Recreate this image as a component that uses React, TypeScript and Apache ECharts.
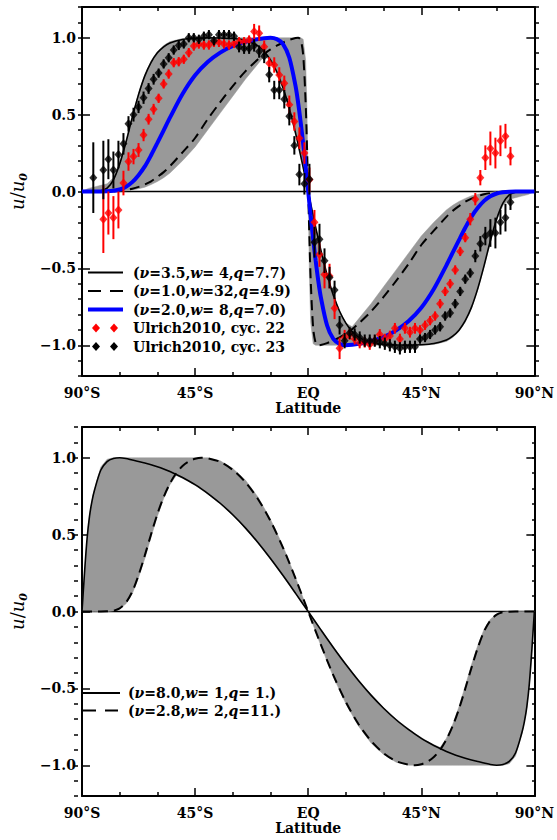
import React, { useEffect, useRef } from "react";
import * as echarts from "echarts";

// ---------------- Top panel: model profiles ----------------
const TOP_LAT = [-90,-87.5,-85,-82.5,-80,-77.5,-75,-72.5,-70,-67.5,-65,-62.5,-60,-57.5,-55,-50,-45,-40,-35,-30,-25,-20,-17.5,-15,-12.5,-10,-7.5,-5,-4,-3,-2,-1,-0.5,0,0.5,1,2,3,4,5,7.5,10,12.5,15,17.5,20,25,30,35,40,45,50,55,57.5,60,62.5,65,67.5,70,72.5,75,77.5,80,82.5,85,87.5,90];
// (v=3.5, w=4, q=7.7)
const TOP_SOLID = [0,0,0,0.004,0.022,0.076,0.179,0.32,0.482,0.63,0.752,0.84,0.902,0.941,0.966,0.989,0.997,0.999,0.998,0.995,0.983,0.947,0.911,0.856,0.779,0.674,0.54,0.378,0.307,0.233,0.157,0.079,0.039,
  0,
  -0.039,-0.079,-0.157,-0.233,-0.307,-0.378,-0.54,-0.674,-0.779,-0.856,-0.911,-0.947,-0.983,-0.995,-0.998,-0.999,-0.997,-0.989,-0.966,-0.941,-0.902,-0.84,-0.752,-0.63,-0.482,-0.32,-0.179,-0.076,-0.022,-0.004,0,0,0];
// (v=1.0, w=32, q=4.9)
const TOP_DASHED = [0,0,0,0,0.001,0.002,0.005,0.01,0.018,0.03,0.046,0.066,0.095,0.126,0.165,0.255,0.348,0.47,0.581,0.686,0.781,0.86,0.895,0.924,0.948,0.969,0.986,0.998,1.0,0.986,0.891,0.574,0.309,
  0,
  -0.309,-0.574,-0.891,-0.986,-1.0,-0.998,-0.986,-0.969,-0.948,-0.924,-0.895,-0.86,-0.781,-0.686,-0.581,-0.47,-0.348,-0.255,-0.165,-0.126,-0.095,-0.066,-0.046,-0.03,-0.018,-0.01,-0.005,-0.002,-0.001,0,0,0,0];
// (v=2.0, w=8, q=7.0)
const TOP_BLUE = [0,0,0,0,0.001,0.005,0.013,0.031,0.061,0.106,0.163,0.236,0.316,0.398,0.48,0.634,0.756,0.842,0.903,0.947,0.973,0.991,0.997,1.0,0.991,0.959,0.87,0.684,0.578,0.452,0.311,0.159,0.08,
  0,
  -0.08,-0.159,-0.311,-0.452,-0.578,-0.684,-0.87,-0.959,-0.991,-1.0,-0.997,-0.991,-0.973,-0.947,-0.903,-0.842,-0.756,-0.634,-0.48,-0.398,-0.316,-0.236,-0.163,-0.106,-0.061,-0.031,-0.013,-0.005,-0.001,0,0,0,0];
// grey range of the model family (upper / lower value)
const TOP_BAND_HI = [0,0.02,0.03,0.04,0.05,0.09,0.19,0.33,0.49,0.64,0.76,0.85,0.91,0.95,0.975,0.995,1,1,1,1,1,1,1,1,1,1,1,1,1,1,0.99,0.85,0.55,
  0,
  -0.039,-0.079,-0.157,-0.233,-0.307,-0.378,-0.54,-0.674,-0.779,-0.856,-0.88,-0.83,-0.73,-0.62,-0.51,-0.4,-0.29,-0.2,-0.12,-0.09,-0.065,-0.045,-0.028,-0.018,-0.01,-0.005,0,0,0,0,0,0,0];
const TOP_BAND_LO = [0,0,0,0,0,0,0,0.005,0.01,0.018,0.028,0.045,0.065,0.09,0.12,0.2,0.29,0.4,0.51,0.62,0.73,0.83,0.88,0.856,0.779,0.674,0.54,0.378,0.307,0.233,0.157,0.079,0.039,
  0,
  -0.55,-0.85,-0.99,-1,-1,-1,-1,-1,-1,-1,-1,-1,-1,-1,-1,-1,-1,-0.995,-0.975,-0.95,-0.91,-0.85,-0.76,-0.64,-0.49,-0.33,-0.19,-0.09,-0.05,-0.04,-0.03,-0.02,0];

// ---------------- Ulrich 2010 data ----------------
const CYC23_LAT = [-85.5,-81.5,-79.5,-77.5,-75.5,-73.5,-71.5,-69.5,-67.5,-65.5,-63.5,-61.5,-59.5,-57.5,-55.5,-53.5,-51.5,-49.5,-47.5,-45.5,-43.5,-41.5,-39.5,-37.5,-35.5,-33.5,-31.5,-29.5,-27.5,-25.5,-23.5,-21.5,-19.5,-17.5,-15.5,-13.5,-11.5,-9.5,-7.5,-5.5,-3.5,-1.5,0.5,2.5,4.5,6.5,8.5,10.5,12.5,14.5,16.5,18.5,20.5,22.5,24.5,26.5,28.5,30.5,32.5,34.5,36.5,38.5,40.5,42.5,44.5,46.5,48.5,50.5,52.5,54.5,56.5,58.5,60.5,62.5,64.5,66.5,68.5,70.5,72.5,74.5,76.5,78.5,80.5];
const CYC23_VAL = [0.09,0.14,0.21,0.14,0.24,0.31,0.44,0.5,0.55,0.61,0.67,0.73,0.77,0.83,0.87,0.92,0.95,0.96,1.0,1.0,0.99,1.01,1.02,0.98,1.02,1.02,1.02,1.01,0.94,0.93,0.93,0.95,0.91,0.88,0.76,0.66,0.66,0.6,0.49,0.3,0.11,0.05,
  0.08,-0.33,-0.31,-0.45,-0.56,-0.64,-0.87,-0.97,-0.92,-0.93,-0.95,-0.97,-0.97,-0.97,-0.98,-0.99,-1.0,-1.01,-1.02,-1.01,-1.01,-1.01,-0.96,-0.95,-0.93,-0.9,-0.88,-0.81,-0.79,-0.73,-0.65,-0.57,-0.53,-0.42,-0.34,-0.29,-0.27,-0.27,-0.2,-0.17,-0.07];
const CYC23_ERR = [0.23,0.19,0.13,0.12,0.09,0.07,0.05,0.045,0.04,0.04,0.035,0.035,0.03,0.03,0.03,0.03,0.03,0.03,0.03,0.03,0.03,0.03,0.03,0.03,0.03,0.03,0.03,0.03,0.035,0.035,0.035,0.04,0.04,0.045,0.05,0.06,0.06,0.06,0.06,0.06,0.07,0.07,
  0.1,0.1,0.1,0.08,0.07,0.06,0.06,0.05,0.04,0.04,0.04,0.04,0.04,0.04,0.04,0.04,0.04,0.04,0.04,0.04,0.04,0.04,0.03,0.03,0.03,0.03,0.03,0.03,0.03,0.03,0.03,0.03,0.03,0.04,0.05,0.06,0.09,0.1,0.08,0.09,0.05];

const CYC22_LAT = [-81.5,-79.5,-77.5,-75.5,-73.5,-71.5,-69.5,-67.5,-65.5,-63.5,-61.5,-59.5,-57.5,-55.5,-53.5,-51.5,-49.5,-47.5,-45.5,-43.5,-41.5,-39.5,-37.5,-35.5,-33.5,-31.5,-29.5,-27.5,-25.5,-23.5,-21.5,-19.5,-17.5,-15.5,-13.5,-11.5,-9.5,-7.5,-5.5,-3.5,-1.5,0.5,2.5,4.5,6.5,8.5,10.5,12.5,14.5,16.5,18.5,20.5,22.5,24.5,26.5,28.5,30.5,32.5,34.5,36.5,38.5,40.5,42.5,44.5,46.5,48.5,50.5,52.5,54.5,56.5,58.5,60.5,62.5,64.5,66.5,68.5,70.5,72.5,74.5,76.5,78.5,80.5];
const CYC22_VAL = [-0.18,-0.14,-0.17,-0.12,0.055,0.195,0.227,0.27,0.367,0.47,0.535,0.606,0.7,0.764,0.838,0.844,0.86,0.903,0.946,0.959,0.953,0.953,0.97,0.97,0.96,0.953,0.963,0.974,0.974,0.985,1.04,1.03,0.942,0.834,0.823,0.758,0.704,0.564,0.455,0.347,0.25,
  0.076,-0.2,-0.41,-0.54,-0.55,-0.76,-1.02,-0.95,-0.93,-0.96,-0.985,-0.98,-0.995,-0.97,-0.93,-0.96,-0.94,-0.89,-0.96,-0.89,-0.915,-0.89,-0.9,-0.87,-0.84,-0.81,-0.73,-0.65,-0.6,-0.51,-0.39,-0.3,-0.18,-0.05,0.09,0.22,0.28,0.25,0.33,0.36,0.23];
const CYC22_ERR = [0.22,0.14,0.14,0.12,0.08,0.06,0.05,0.045,0.04,0.035,0.035,0.03,0.03,0.03,0.03,0.03,0.03,0.03,0.03,0.03,0.03,0.03,0.03,0.03,0.03,0.03,0.03,0.03,0.03,0.03,0.05,0.05,0.04,0.04,0.05,0.05,0.05,0.06,0.06,0.07,0.07,
  0.08,0.08,0.08,0.09,0.08,0.07,0.07,0.05,0.035,0.035,0.035,0.035,0.035,0.035,0.035,0.035,0.035,0.035,0.035,0.035,0.035,0.035,0.03,0.03,0.03,0.03,0.03,0.03,0.03,0.03,0.03,0.03,0.04,0.04,0.05,0.08,0.11,0.1,0.1,0.08,0.06];

// ---------------- Bottom panel: model profiles ----------------
const BOT_LAT = [-90,-89,-88,-87,-86,-85,-82.5,-80,-77.5,-75,-72.5,-70,-67.5,-65,-62.5,-60,-57.5,-55,-52.5,-50,-47.5,-45,-42.5,-40,-35,-30,-25,-20,-15,-10,-5,0,5,10,15,20,25,30,35,40,42.5,45,47.5,50,52.5,55,57.5,60,62.5,65,67.5,70,72.5,75,77.5,80,82.5,85,86,87,88,89,90];
// (v=8.0, w=1, q=1.)
const BOT_SOLID = [0,0.25,0.47,0.62,0.72,0.79,0.92,0.975,0.995,1,0.995,0.985,0.976,0.966,0.955,0.942,0.927,0.91,0.891,0.871,0.849,0.825,0.798,0.769,0.704,0.629,0.544,0.449,0.345,0.234,0.118,
  0,
  -0.118,-0.234,-0.345,-0.449,-0.544,-0.629,-0.704,-0.769,-0.798,-0.825,-0.849,-0.871,-0.891,-0.91,-0.927,-0.942,-0.955,-0.966,-0.976,-0.985,-0.995,-1,-0.995,-0.975,-0.92,-0.79,-0.72,-0.62,-0.47,-0.25,0];
// (v=2.8, w=2, q=11.)
const BOT_DASHED = [0,0,0,0,0,0,0,0.001,0.005,0.02,0.058,0.129,0.236,0.365,0.503,0.634,0.745,0.833,0.9,0.946,0.976,0.993,1,0.997,0.973,0.921,0.841,0.732,0.589,0.414,0.214,
  0,
  -0.214,-0.414,-0.589,-0.732,-0.841,-0.921,-0.973,-0.997,-1,-0.993,-0.976,-0.946,-0.9,-0.833,-0.745,-0.634,-0.503,-0.365,-0.236,-0.129,-0.058,-0.02,-0.005,-0.001,0,0,0,0,0,0,0];
const BOT_BAND_HI = [0,0.25,0.47,0.62,0.72,0.8,0.94,0.99,1,1,1,1,1,1,1,1,1,1,1,1,1,1,1,1,0.98,0.93,0.855,0.745,0.6,0.425,0.22,
  0,
  -0.115,-0.23,-0.34,-0.445,-0.54,-0.625,-0.7,-0.764,-0.793,-0.82,-0.845,-0.866,-0.885,-0.825,-0.735,-0.62,-0.485,-0.345,-0.22,-0.115,-0.05,-0.018,-0.004,0,0,0,0,0,0,0,0];
const BOT_BAND_LO = [0,0,0,0,0,0,0,0,0.004,0.018,0.05,0.115,0.22,0.345,0.485,0.62,0.735,0.825,0.885,0.866,0.845,0.82,0.793,0.764,0.7,0.625,0.54,0.445,0.34,0.23,0.115,
  0,
  -0.22,-0.425,-0.6,-0.745,-0.855,-0.93,-0.98,-1,-1,-1,-1,-1,-1,-1,-1,-1,-1,-1,-1,-1,-1,-1,-1,-0.99,-0.94,-0.8,-0.72,-0.62,-0.47,-0.25,0];

// ---------------- ticks ----------------
const LAT_TICKS: Record<string, string> = { "-90": "90°S", "-45": "45°S", "0": "EQ", "45": "45°N", "90": "90°N" };
const Y_MAJOR = [-1, -0.5, 0, 0.5, 1];

const FONT = "'DejaVu Serif', 'Liberation Serif', serif";
const WEIGHT = "bold";
const GREY = "#999999";

function zip(a: number[], b: number[]) { return a.map((x, i) => [x, b[i]]); }
function zip3(a: number[], b: number[], c: number[]) { return a.map((x, i) => [x, b[i], c[i]]); }

function yFmt(v: number) {
  const r = Math.round(v * 10) / 10;
  if (Math.abs(r * 2 - Math.round(r * 2)) > 1e-6) return "";
  return (r < 0 ? "\u2212" : "") + Math.abs(r).toFixed(1);
}

const nameRich = {
  i: { fontFamily: FONT, fontStyle: "italic", fontSize: 18, lineHeight: 24, color: "#000" },
  s: { fontFamily: FONT, fontStyle: "italic", fontWeight: WEIGHT, fontSize: 11, lineHeight: 12, verticalAlign: "bottom", color: "#000" },
};

function buildAxes(g: number, gOverlay: number) {
  const line = { show: true, onZero: false, lineStyle: { color: "#000", width: 2 } };
  const tick = (len: number) => ({ show: true, inside: true, length: len, lineStyle: { color: "#000", width: 1.5 } });
  const xAxes = [
    {
      gridIndex: g, type: "value", min: -90, max: 90, interval: 45, position: "bottom",
      axisLine: line, axisTick: tick(8),
      minorTick: { show: true, splitNumber: 3, length: 4, lineStyle: { color: "#000", width: 1.5 } },
      splitLine: { show: false },
      axisLabel: { formatter: (v: number) => LAT_TICKS[String(v)] ?? "", margin: 10, color: "#000", fontFamily: FONT, fontWeight: WEIGHT, fontSize: 14 },
      name: "Latitude", nameLocation: "middle", nameGap: 25,
      nameTextStyle: { color: "#000", fontFamily: FONT, fontWeight: WEIGHT, fontSize: 14 },
    },
    {
      gridIndex: g, type: "value", min: -90, max: 90, interval: 45, position: "top",
      axisLine: line, axisTick: tick(8),
      minorTick: { show: true, splitNumber: 3, length: 4, lineStyle: { color: "#000", width: 1.5 } },
      splitLine: { show: false }, axisLabel: { show: false },
    },
    { gridIndex: gOverlay, type: "value", min: -90, max: 90, show: false },
  ];
  const yAxes = [
    {
      gridIndex: g, type: "value", min: -1.2, max: 1.2, position: "left",
      axisLine: line,
      axisTick: { ...tick(8), customValues: Y_MAJOR },
      splitLine: { show: false },
      axisLabel: { customValues: Y_MAJOR, formatter: yFmt, margin: 6, color: "#000", fontFamily: FONT, fontWeight: WEIGHT, fontSize: 14 },
      name: "{i|u}/{i|u}{s|0}", nameLocation: "middle", nameRotate: 90, nameGap: 44,
      nameTextStyle: { color: "#000", fontFamily: FONT, fontSize: 18, rich: nameRich },
    },
    {
      gridIndex: g, type: "value", min: -1.2, max: 1.2, position: "right",
      axisLine: line,
      axisTick: { ...tick(8), customValues: Y_MAJOR },
      splitLine: { show: false }, axisLabel: { show: false },
    },
    {
      gridIndex: gOverlay, type: "value", min: -1.2, max: 1.2, interval: 0.1, position: "left",
      axisLine: { show: false, onZero: false }, axisTick: tick(4), splitLine: { show: false }, axisLabel: { show: false },
    },
    {
      gridIndex: gOverlay, type: "value", min: -1.2, max: 1.2, interval: 0.1, position: "right",
      axisLine: { show: false, onZero: false }, axisTick: tick(4), splitLine: { show: false }, axisLabel: { show: false },
    },
  ];
  return { xAxes, yAxes };
}

function bandSeries(lat: number[], lo: number[], hi: number[], xi: number, yi: number) {
  const rows = zip3(lat, lo, hi);
  return {
    type: "custom", xAxisIndex: xi, yAxisIndex: yi, data: rows, encode: { x: 0, y: [1, 2] },
    silent: true, z: 2, clip: true,
    renderItem: (params: any, api: any) => {
      if (params.dataIndex !== 0) return null;
      const upper = rows.map((r) => api.coord([r[0], r[2]]));
      const lower = rows.map((r) => api.coord([r[0], r[1]])).reverse();
      return { type: "polygon", shape: { points: upper.concat(lower) }, style: { fill: GREY, stroke: GREY, lineWidth: 0.5 } };
    },
  };
}

function curve(lat: number[], val: number[], xi: number, yi: number, color: string, width: number, dashed: boolean, z: number) {
  return {
    type: "line", xAxisIndex: xi, yAxisIndex: yi, data: zip(lat, val), showSymbol: false, symbol: "none",
    smooth: 0.3, silent: true, z,
    lineStyle: { color, width, type: dashed ? [10, 6] : "solid" },
  };
}

function zeroLine(xi: number, yi: number) {
  return {
    type: "line", xAxisIndex: xi, yAxisIndex: yi, data: [[-90, 0], [90, 0]], symbol: "none", silent: true, z: 1,
    lineStyle: { color: "#000", width: 1.5 },
  };
}

function errorBars(lat: number[], val: number[], err: number[], color: string, z: number) {
  return {
    type: "custom", xAxisIndex: 0, yAxisIndex: 0, data: zip3(lat, val, err), encode: { x: 0, y: 1 },
    silent: true, z, clip: true,
    renderItem: (_p: any, api: any) => {
      const x = api.value(0), v = api.value(1), e = api.value(2);
      const a = api.coord([x, v - e]);
      const b = api.coord([x, v + e]);
      return { type: "line", shape: { x1: a[0], y1: a[1], x2: b[0], y2: b[1] }, style: { stroke: color, lineWidth: 2 } };
    },
  };
}

function points(lat: number[], val: number[], color: string, z: number) {
  return {
    type: "scatter", xAxisIndex: 0, yAxisIndex: 0, data: zip(lat, val), symbol: "diamond", symbolSize: [8, 9],
    itemStyle: { color }, silent: true, z,
  };
}

const legendRich = {
  i: { fontFamily: FONT, fontStyle: "italic", fontWeight: WEIGHT, fontSize: 14, fill: "#000" },
};

function legendText(x: number, y: number, text: string) {
  return { type: "text", x, y, style: { text, fontFamily: FONT, fontWeight: WEIGHT, fontSize: 14, fill: "#000", verticalAlign: "middle", rich: legendRich } };
}
function legendLine(x1: number, x2: number, y: number, color: string, width: number, dash?: number[]) {
  return { type: "line", shape: { x1, y1: y, x2, y2: y }, style: { stroke: color, lineWidth: width, lineDash: dash } };
}
function legendDiamond(cx: number, cy: number, color: string) {
  return { type: "polygon", shape: { points: [[cx, cy - 4.5], [cx + 4, cy], [cx, cy + 4.5], [cx - 4, cy]] }, style: { fill: color } };
}

function buildOption() {
  const top = buildAxes(0, 1);
  const bot = buildAxes(2, 3);
  const legendRows = [272.5, 291, 309.5, 328, 346.5];
  return {
    animation: false,
    backgroundColor: "#fff",
    grid: [
      { left: 78, top: 7, width: 461, height: 369 },
      { left: 78, top: 7, width: 461, height: 369 },
      { left: 74, top: 427, width: 462, height: 369 },
      { left: 74, top: 427, width: 462, height: 369 },
    ],
    xAxis: [...top.xAxes, ...bot.xAxes],
    yAxis: [...top.yAxes, ...bot.yAxes],
    series: [
      zeroLine(0, 0),
      bandSeries(TOP_LAT, TOP_BAND_LO, TOP_BAND_HI, 0, 0),
      curve(TOP_LAT, TOP_SOLID, 0, 0, "#000", 1.6, false, 3),
      curve(TOP_LAT, TOP_DASHED, 0, 0, "#000", 2, true, 3),
      curve(TOP_LAT, TOP_BLUE, 0, 0, "#0000ff", 4, false, 4),
      errorBars(CYC22_LAT, CYC22_VAL, CYC22_ERR, "#ff0000", 5),
      points(CYC22_LAT, CYC22_VAL, "#ff0000", 6),
      errorBars(CYC23_LAT, CYC23_VAL, CYC23_ERR, "#000", 7),
      points(CYC23_LAT, CYC23_VAL, "#000", 8),
      zeroLine(3, 4),
      bandSeries(BOT_LAT, BOT_BAND_LO, BOT_BAND_HI, 3, 4),
      curve(BOT_LAT, BOT_SOLID, 3, 4, "#000", 1.6, false, 3),
      curve(BOT_LAT, BOT_DASHED, 3, 4, "#000", 2, true, 3),
    ],
    graphic: [
      legendLine(88, 123, legendRows[0], "#000", 2),
      legendText(133, legendRows[0], "({i|\u03bd}=3.5,{i|w}= 4,{i|q}=7.7)"),
      legendLine(88, 123, legendRows[1], "#000", 2, [13, 9]),
      legendText(133, legendRows[1], "({i|\u03bd}=1.0,{i|w}=32,{i|q}=4.9)"),
      legendLine(88, 123, legendRows[2], "#0000ff", 4),
      legendText(133, legendRows[2], "({i|\u03bd}=2.0,{i|w}= 8,{i|q}=7.0)"),
      legendDiamond(96, legendRows[3], "#ff0000"),
      legendDiamond(114, legendRows[3], "#ff0000"),
      legendText(133, legendRows[3], "Ulrich2010, cyc. 22"),
      legendDiamond(96, legendRows[4], "#000"),
      legendDiamond(114, legendRows[4], "#000"),
      legendText(133, legendRows[4], "Ulrich2010, cyc. 23"),
      legendLine(83, 120, 693, "#000", 2),
      legendText(128, 693, "({i|\u03bd}=8.0,{i|w}= 1,{i|q}= 1.)"),
      legendLine(83, 120, 710.5, "#000", 2, [13, 9]),
      legendText(128, 710.5, "({i|\u03bd}=2.8,{i|w}= 2,{i|q}=11.)"),
    ],
  };
}

export default function App() {
  const ref = useRef<HTMLDivElement>(null);
  useEffect(() => {
    if (!ref.current) return;
    const chart = echarts.init(ref.current, null, { renderer: "svg" });
    chart.setOption(buildOption() as any);
    return () => chart.dispose();
  }, []);
  return <div ref={ref} style={{ position: "absolute", left: 0, top: 0, width: 557, height: 840, background: "#fff" }} />;
}
